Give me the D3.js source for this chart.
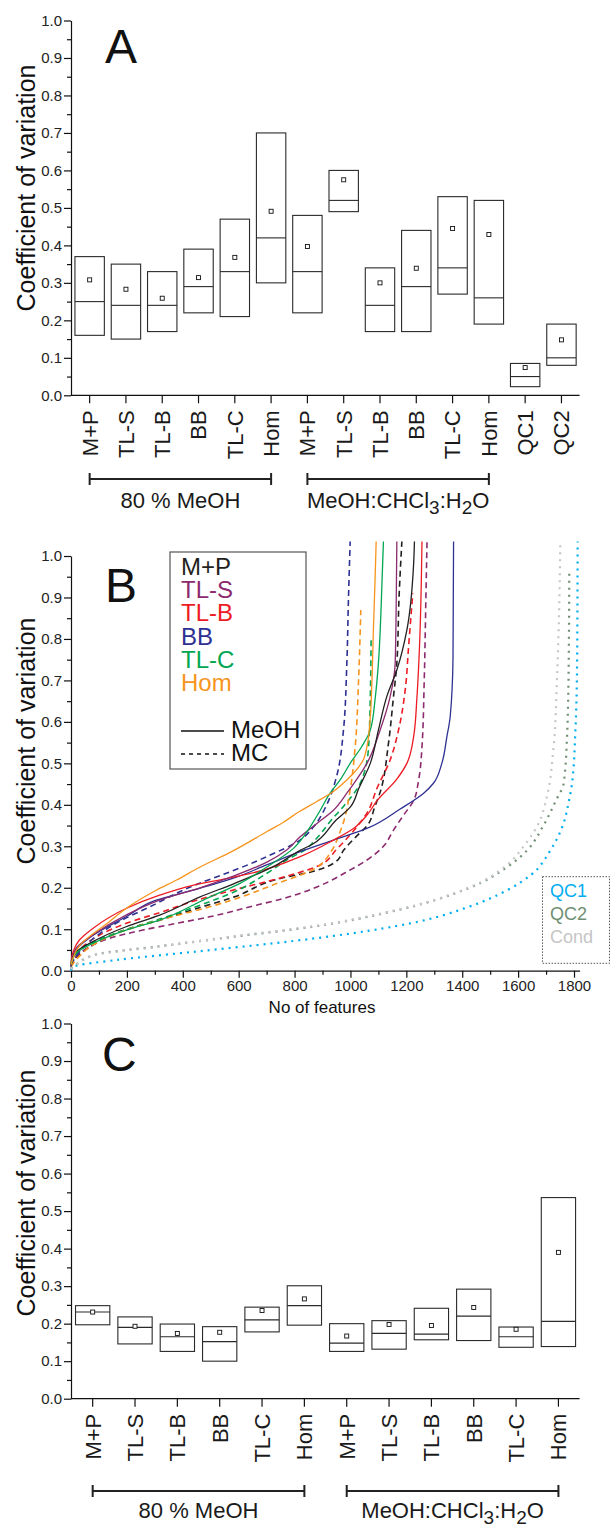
<!DOCTYPE html>
<html>
<head>
<meta charset="utf-8">
<script src="https://cdn.jsdelivr.net/npm/d3@7"></script>
<style>
  body { margin: 0; background: #fff; }
  svg text { font-family: "Liberation Sans", Arial, Helvetica, sans-serif; }
</style>
</head>
<body>
<svg id="chart" width="612" height="1528"></svg>
<script>
// ---------- Panel A: CV per extraction (box = quartiles, square = mean) ----------
const catsA = ["M+P","TL-S","TL-B","BB","TL-C","Hom","M+P","TL-S","TL-B","BB","TL-C","Hom","QC1","QC2"];
const q3A   = [0.37, 0.35, 0.33, 0.39, 0.47, 0.70, 0.48, 0.60, 0.34, 0.44, 0.53, 0.52, 0.085, 0.19];
const medA  = [0.25, 0.24, 0.24, 0.29, 0.33, 0.42, 0.33, 0.52, 0.24, 0.29, 0.34, 0.26, 0.05, 0.10];
const q1A   = [0.16, 0.15, 0.17, 0.22, 0.21, 0.30, 0.22, 0.49, 0.17, 0.17, 0.27, 0.19, 0.023, 0.08];
const meanA = [0.308, 0.283, 0.259, 0.314, 0.368, 0.491, 0.397, 0.575, 0.300, 0.339, 0.445, 0.429, 0.074, 0.148];

// ---------- Panel C ----------
const catsC = ["M+P","TL-S","TL-B","BB","TL-C","Hom","M+P","TL-S","TL-B","BB","TL-C","Hom"];
const q3C   = [0.248, 0.218, 0.199, 0.192, 0.244, 0.301, 0.200, 0.208, 0.241, 0.292, 0.191, 0.536];
const medC  = [0.231, 0.190, 0.165, 0.152, 0.210, 0.248, 0.148, 0.174, 0.172, 0.220, 0.165, 0.206];
const q1C   = [0.197, 0.146, 0.126, 0.100, 0.178, 0.196, 0.126, 0.132, 0.157, 0.155, 0.137, 0.139];
const meanC = [0.231, 0.193, 0.174, 0.177, 0.235, 0.266, 0.167, 0.198, 0.195, 0.243, 0.185, 0.390];

// solvent group labels
const groupLabels = ["80 % MeOH", "MeOH:CHCl3:H2O"];

// ---------- Panel B: cumulative CV curves, [no of features, CV] ----------
const mpMeOH  = [[0,0.015],[18,0.045],[78,0.07],[197,0.106],[317,0.134],[462,0.178],[584,0.21],[724,0.251],[820,0.29],[864,0.305],[948,0.363],[1000,0.395],[1030,0.44],[1071,0.5],[1100,0.58],[1130,0.661],[1166,0.725],[1202,0.822],[1226,0.98],[1229,1.035]];
const tlsMeOH = [[0,0.015],[18,0.054],[78,0.086],[197,0.134],[317,0.17],[462,0.2],[581,0.228],[701,0.262],[772,0.291],[820,0.323],[880,0.355],[939,0.387],[987,0.428],[1023,0.462],[1059,0.5],[1106,0.58],[1142,0.661],[1160,0.741],[1164,0.9],[1166,1.035]];
const tlbMeOH = [[0,0.02],[10,0.05],[30,0.074],[78,0.102],[197,0.15],[317,0.182],[436,0.206],[556,0.222],[663,0.238],[820,0.275],[939,0.315],[1011,0.343],[1059,0.375],[1095,0.41],[1166,0.462],[1202,0.5],[1226,0.564],[1238,0.66],[1247,0.78],[1256,1.035]];
const bbMeOH  = [[0,0.01],[18,0.05],[78,0.085],[197,0.13],[305,0.17],[436,0.194],[581,0.223],[700,0.255],[820,0.287],[939,0.315],[1059,0.343],[1178,0.39],[1262,0.428],[1297,0.452],[1327,0.5],[1345,0.564],[1357,0.613],[1367,0.757],[1369,1.035]];
const tlcMeOH = [[0,0.015],[18,0.042],[78,0.066],[197,0.098],[317,0.122],[484,0.174],[603,0.21],[701,0.25],[796,0.295],[856,0.347],[892,0.387],[927,0.428],[963,0.46],[999,0.5],[1040,0.54],[1071,0.58],[1089,0.66],[1100,0.741],[1109,0.862],[1118,1.035]];
const homMeOH = [[0,0.015],[30,0.06],[137,0.118],[197,0.15],[305,0.194],[376,0.218],[462,0.25],[580,0.289],[700,0.335],[760,0.358],[820,0.385],[880,0.408],[939,0.432],[987,0.46],[1011,0.476],[1047,0.51],[1059,0.54],[1071,0.612],[1077,0.70],[1082,0.82],[1088,0.94],[1092,1.035]];

const mpMC  = [[0,0.01],[30,0.04],[100,0.07],[200,0.1],[317,0.122],[450,0.15],[584,0.178],[752,0.223],[864,0.239],[948,0.263],[976,0.291],[1032,0.331],[1059,0.349],[1087,0.395],[1106,0.43],[1136,0.548],[1154,0.661],[1166,0.741],[1174,0.902],[1184,1.035]];
const tlsMC = [[0,0.01],[20,0.035],[60,0.055],[137,0.078],[257,0.098],[376,0.114],[496,0.13],[663,0.158],[760,0.174],[880,0.202],[999,0.243],[1059,0.267],[1118,0.3],[1154,0.339],[1190,0.375],[1226,0.41],[1244,0.46],[1256,0.54],[1264,0.7],[1270,0.9],[1274,1.035]];
const tlbMC = [[0,0.015],[30,0.05],[100,0.085],[200,0.115],[317,0.14],[450,0.17],[612,0.2],[701,0.215],[808,0.235],[892,0.255],[948,0.291],[1023,0.347],[1059,0.38],[1095,0.44],[1142,0.508],[1172,0.58],[1196,0.677],[1208,0.781],[1223,0.91]];
const bbMC  = [[0,0.015],[50,0.06],[150,0.11],[300,0.16],[420,0.2],[556,0.235],[657,0.262],[700,0.275],[820,0.315],[868,0.347],[915,0.4],[951,0.47],[975,0.58],[987,0.74],[993,0.9],[999,1.035]];
const tlcMC = [[0,0.015],[30,0.05],[100,0.075],[200,0.1],[320,0.125],[450,0.155],[600,0.195],[701,0.235],[780,0.27],[836,0.291],[880,0.32],[934,0.365],[980,0.4],[1035,0.452],[1065,0.54],[1071,0.66],[1074,0.805]];
const homMC = [[0,0.01],[30,0.035],[78,0.062],[197,0.098],[317,0.122],[496,0.154],[627,0.182],[724,0.207],[864,0.243],[934,0.291],[960,0.33],[976,0.36],[999,0.436],[1017,0.54],[1029,0.7],[1037,0.87]];

const qc1  = [[0,0.0],[11,0.01],[165,0.026],[445,0.046],[724,0.066],[1004,0.09],[1213,0.114],[1423,0.154],[1563,0.195],[1646,0.231],[1716,0.291],[1758,0.347],[1782,0.41],[1793,0.452],[1805,0.58],[1811,0.74],[1813,1.035]];
const qc2  = [[0,0.005],[25,0.018],[95,0.04],[305,0.058],[584,0.082],[864,0.106],[1143,0.142],[1423,0.199],[1563,0.251],[1633,0.291],[1688,0.347],[1735,0.41],[1763,0.452],[1775,0.564],[1781,0.74],[1783,0.962]];
const cond = [[0,0.004],[25,0.017],[95,0.039],[305,0.057],[584,0.083],[864,0.107],[1143,0.143],[1423,0.2],[1560,0.255],[1620,0.3],[1673,0.355],[1703,0.42],[1727,0.54],[1739,0.7],[1745,0.82],[1751,1.027]];

const sampleNames = ["M+P","TL-S","TL-B","BB","TL-C","Hom"];
const qcNames = ["QC1","QC2","Cond"];
const xTicksB = [0,200,400,600,800,1000,1200,1400,1600,1800];

// ---------- styling ----------
const sampleColors = ["#231f20","#8c2a6e","#ed1c24","#2e3192","#00a651","#f7941d"];
const qcColors = ["#00aeef","#6f8f74","#c6c6c6"];
const AX = 71, AXR = 579.6;

const svg = d3.select("#chart");

function yAxis(g, y, x0) {
  const major = d3.range(0, 11).map(d => d / 10);
  const minor = d3.range(0, 10).map(d => d / 10 + 0.05);
  g.append("g").attr("transform", `translate(${x0},0)`)
    .call(d3.axisLeft(y).tickValues(minor).tickSize(4).tickSizeOuter(0).tickFormat(""))
    .call(s => s.select(".domain").remove());
  g.append("g").attr("transform", `translate(${x0},0)`)
    .call(d3.axisLeft(y).tickValues(major).tickSize(7).tickSizeOuter(0).tickPadding(2).tickFormat(d3.format(".1f")))
    .call(s => s.selectAll("text").attr("font-size", 15).attr("fill", "#222"));
  g.selectAll(".domain, .tick line").attr("stroke", "#111").attr("stroke-width", 1.2);
}

function yTitle(g, x, cy) {
  g.append("text").attr("transform", `translate(${x},${cy}) rotate(-90)`)
    .attr("text-anchor", "middle").attr("font-size", 25).attr("fill", "#111")
    .text("Coefficient of variation");
}

function letter(g, x, y, t) {
  g.append("text").attr("x", x).attr("y", y).attr("font-size", 48).attr("fill", "#111").text(t);
}

function groupLabel(g, text, cx, y) {
  const t = g.append("text").attr("x", cx).attr("y", y).attr("text-anchor", "middle")
    .attr("font-size", 22).attr("fill", "#1a1a1a");
  if (text.indexOf("CHCl3") >= 0) {
    t.append("tspan").text("MeOH:CHCl");
    t.append("tspan").attr("dy", 6).attr("font-size", 19).text("3");
    t.append("tspan").attr("dy", -6).text(":H");
    t.append("tspan").attr("dy", 6).attr("font-size", 19).text("2");
    t.append("tspan").attr("dy", -6).text("O");
  } else {
    t.text(text);
  }
}

function boxPanel(opt) {
  const g = svg.append("g");
  const y = d3.scaleLinear().domain([0, 1]).range([opt.y0, opt.y1]);
  const x = d3.scaleBand().domain(d3.range(opt.cats.length)).range([AX + 0.5, AXR]).padding(0);
  const step = x.step(), bw = step * 0.81;
  const cx = i => x(i) + step / 2;

  yAxis(g, y, AX);
  // category axis
  const xa = g.append("g").attr("transform", `translate(0,${opt.y0})`)
    .call(d3.axisBottom(x).tickSize(8).tickSizeOuter(0).tickFormat(i => opt.cats[i]));
  xa.select(".domain").attr("d", `M${AX},0H${AXR}`);
  xa.selectAll(".domain, .tick line").attr("stroke", "#111").attr("stroke-width", 1.2);
  xa.selectAll("text").attr("transform", "rotate(-90)").attr("text-anchor", "end")
    .attr("x", -15).attr("y", 0).attr("dy", "0.36em").attr("font-size", 22).attr("fill", "#1a1a1a");

  const boxes = g.append("g");
  opt.cats.forEach((c, i) => {
    boxes.append("rect").attr("x", cx(i) - bw / 2).attr("y", y(opt.q3[i]))
      .attr("width", bw).attr("height", y(opt.q1[i]) - y(opt.q3[i]))
      .attr("fill", "none").attr("stroke", "#2a2a2a").attr("stroke-width", 1.1);
    boxes.append("line").attr("x1", cx(i) - bw / 2).attr("x2", cx(i) + bw / 2)
      .attr("y1", y(opt.med[i])).attr("y2", y(opt.med[i]))
      .attr("stroke", "#2a2a2a").attr("stroke-width", 1.1);
    boxes.append("rect").attr("x", cx(i) - 2).attr("y", y(opt.mean[i]) - 2)
      .attr("width", 4).attr("height", 4).attr("fill", "#fff")
      .attr("stroke", "#111").attr("stroke-width", 0.9);
  });

  // solvent group brackets
  opt.groups.forEach(([a, b, lab]) => {
    const x1 = cx(a), x2 = cx(b), yb = opt.bracketY;
    g.append("path").attr("d", `M${x1},${yb}H${x2}M${x1},${yb - 6}V${yb + 6}M${x2},${yb - 6}V${yb + 6}`)
      .attr("stroke", "#222").attr("stroke-width", 2).attr("fill", "none");
    groupLabel(g, lab, (x1 + x2) / 2, opt.labelY);
  });

  yTitle(g, 35, opt.titleY);
  letter(g, opt.letterX, opt.letterY, opt.letter);
}

// Panel A
boxPanel({
  cats: catsA, q1: q1A, med: medA, q3: q3A, mean: meanA,
  y0: 395.3, y1: 20.5, bracketY: 479, labelY: 508,
  groups: [[0, 5, groupLabels[0]], [6, 11, groupLabels[1]]],
  titleY: 188, letter: "A", letterX: 105, letterY: 63
});

// Panel C
boxPanel({
  cats: catsC, q1: q1C, med: medC, q3: q3C, mean: meanC,
  y0: 1398.7, y1: 1023.5, bracketY: 1491, labelY: 1518,
  groups: [[0, 5, groupLabels[0]], [6, 11, groupLabels[1]]],
  titleY: 1193, letter: "C", letterX: 102, letterY: 1071
});

// Panel B
(function () {
  const g = svg.append("g");
  const y = d3.scaleLinear().domain([0, 1]).range([970.7, 556]);
  const x = d3.scaleLinear().domain([0, 1820]).range([AX, AXR]);

  yAxis(g, y, AX);
  const minorX = d3.range(100, 1800, 200);
  g.append("g").attr("transform", "translate(0,970.7)")
    .call(d3.axisBottom(x).tickValues(minorX).tickSize(4).tickFormat(""))
    .call(s => s.select(".domain").remove());
  const xa = g.append("g").attr("transform", "translate(0,970.7)")
    .call(d3.axisBottom(x).tickValues(xTicksB).tickSize(7).tickSizeOuter(0).tickPadding(3).tickFormat(d3.format("d")));
  xa.selectAll("text").attr("font-size", 15).attr("fill", "#222");
  g.selectAll(".domain, .tick line").attr("stroke", "#111").attr("stroke-width", 1.2);

  g.append("text").attr("x", 322).attr("y", 1013).attr("text-anchor", "middle")
    .attr("font-size", 17).attr("fill", "#111").text("No of features");

  const line = d3.line().x(d => x(d[0])).y(d => y(d[1])).curve(d3.curveMonotoneY);

  const series = [
    { data: qc1, color: qcColors[0], kind: "dot" },
    { data: qc2, color: qcColors[1], kind: "dot" },
    { data: cond, color: qcColors[2], kind: "dot" },
    { data: mpMC, color: sampleColors[0], kind: "dash" },
    { data: tlsMC, color: sampleColors[1], kind: "dash" },
    { data: tlbMC, color: sampleColors[2], kind: "dash" },
    { data: bbMC, color: sampleColors[3], kind: "dash" },
    { data: tlcMC, color: sampleColors[4], kind: "dash" },
    { data: homMC, color: sampleColors[5], kind: "dash" },
    { data: bbMeOH, color: sampleColors[3], kind: "solid" },
    { data: tlbMeOH, color: sampleColors[2], kind: "solid" },
    { data: tlsMeOH, color: sampleColors[1], kind: "solid" },
    { data: mpMeOH, color: sampleColors[0], kind: "solid" },
    { data: tlcMeOH, color: sampleColors[4], kind: "solid" },
    { data: homMeOH, color: sampleColors[5], kind: "solid" }
  ];
  const lines = g.append("g").attr("fill", "none");
  series.forEach(s => {
    const p = lines.append("path").attr("d", line(s.data)).attr("stroke", s.color);
    if (s.kind === "solid") p.attr("stroke-width", 1.3);
    if (s.kind === "dash") p.attr("stroke-width", 1.6).attr("stroke-dasharray", "6,4");
    if (s.kind === "dot") p.attr("stroke-width", 2.2).attr("stroke-dasharray", "2,5");
  });

  // sample legend
  g.append("rect").attr("x", 170).attr("y", 552).attr("width", 136).attr("height", 217)
    .attr("fill", "#fff").attr("stroke", "#555").attr("stroke-width", 1.2);
  sampleNames.forEach((n, i) => {
    g.append("text").attr("x", 181).attr("y", 575 + i * 23.2).attr("font-size", 24)
      .attr("fill", sampleColors[i]).text(n);
  });
  g.append("line").attr("x1", 181).attr("x2", 224).attr("y1", 731).attr("y2", 731)
    .attr("stroke", "#111").attr("stroke-width", 1.3);
  g.append("line").attr("x1", 181).attr("x2", 224).attr("y1", 754).attr("y2", 754)
    .attr("stroke", "#111").attr("stroke-width", 1.3).attr("stroke-dasharray", "4,4");
  g.append("text").attr("x", 231).attr("y", 738).attr("font-size", 24).attr("fill", "#111").text("MeOH");
  g.append("text").attr("x", 231).attr("y", 761).attr("font-size", 24).attr("fill", "#111").text("MC");

  // QC legend
  g.append("rect").attr("x", 542.5).attr("y", 876.7).attr("width", 67).attr("height", 86.6)
    .attr("fill", "#fff").attr("stroke", "#444").attr("stroke-width", 0.9).attr("stroke-dasharray", "1.5,1.5");
  qcNames.forEach((n, i) => {
    g.append("text").attr("x", 550).attr("y", 897 + i * 23).attr("font-size", 18)
      .attr("fill", qcColors[i]).text(n);
  });

  yTitle(g, 35, 741);
  letter(g, 105, 601.7, "B");
})();
</script>
</body>
</html>
